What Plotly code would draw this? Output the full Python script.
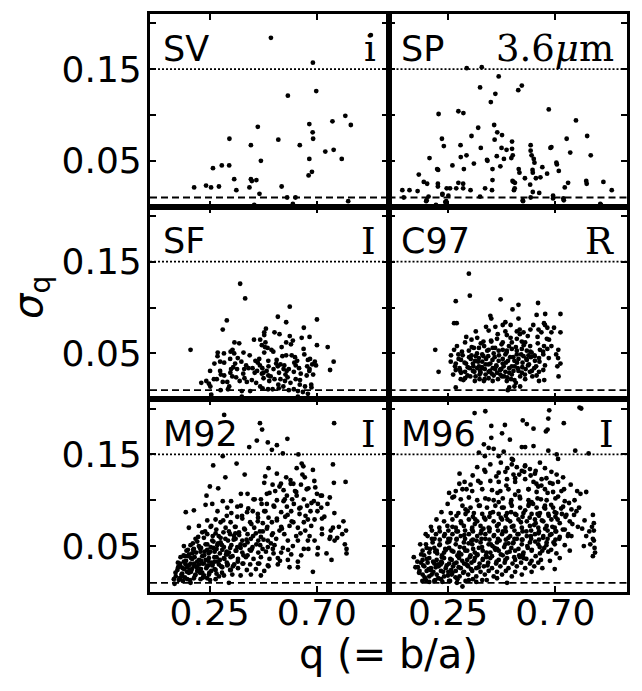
import plotly.graph_objects as go

# ---------------- data (q = b/a, sigma_q) ----------------
sv_q = [0.507,0.926,0.683,0.578,0.697,0.819,0.765,0.842,0.668,0.682,0.684,0.452,0.333,0.538,0.423,0.628,
        0.735,0.770,0.804,0.668,0.465,0.264,0.301,0.332,0.665,0.679,0.235,0.353,0.423,0.427,0.446,0.185,
        0.256,0.289,0.362,0.417,0.552,0.459,0.575,0.610,0.599,0.831,0.437]
sv_s = [0.184,0.187,0.157,0.121,0.126,0.099,0.093,0.089,0.090,0.081,0.074,0.087,0.074,0.073,0.067,0.067,
        0.060,0.062,0.052,0.052,0.050,0.042,0.045,0.045,0.034,0.038,0.023,0.030,0.030,0.028,0.029,0.021,
        0.021,0.022,0.018,0.021,0.022,0.014,0.010,0.010,0.003,0.006,0.002]

sp_q = [0.328,0.391,0.462,0.384,0.544,0.559,0.448,0.429,0.210,0.293,0.314,0.672,0.786,0.376,0.443,0.456,
        0.476,0.348,0.445,0.518,0.224,0.232,0.302,0.387,0.474,0.495,0.518,0.596,0.683,0.679,0.747,0.833,
        0.762,0.848,0.172,0.303,0.327,0.454,0.515,0.521,0.596,0.600,0.413,0.415,0.484,0.609,0.612,0.358,
        0.704,0.706,0.204,0.208,0.268,0.316,0.436,0.469,0.546,0.549,0.604,0.605,0.645,0.665,0.714,0.127,
        0.148,0.162,0.207,0.207,0.293,0.313,0.436,0.520,0.524,0.530,0.572,0.594,0.618,0.637,0.753,0.829,
        0.831,0.901,0.058,0.088,0.122,0.244,0.258,0.284,0.313,0.344,0.405,0.434,0.526,0.529,0.605,0.632,
        0.739,0.936,0.226,0.226,0.251,0.064,0.168,0.384,0.596,0.690,0.733,0.158,0.242,0.564,0.888,0.199,
        0.690,0.160,0.238,0.563,0.735,0.891]
sp_s = [0.151,0.152,0.142,0.130,0.127,0.132,0.123,0.114,0.101,0.104,0.102,0.106,0.094,0.086,0.089,0.081,
        0.078,0.077,0.073,0.071,0.074,0.066,0.067,0.064,0.064,0.062,0.063,0.067,0.065,0.064,0.074,0.077,
        0.059,0.056,0.053,0.054,0.056,0.055,0.053,0.056,0.061,0.056,0.051,0.050,0.052,0.052,0.048,0.047,
        0.048,0.046,0.041,0.040,0.045,0.041,0.041,0.044,0.041,0.037,0.040,0.037,0.043,0.036,0.039,0.035,
        0.027,0.025,0.025,0.022,0.026,0.025,0.029,0.028,0.027,0.026,0.031,0.024,0.031,0.032,0.026,0.028,
        0.025,0.027,0.018,0.018,0.017,0.020,0.020,0.020,0.020,0.018,0.020,0.018,0.018,0.020,0.016,0.015,
        0.021,0.018,0.013,0.014,0.012,0.010,0.011,0.011,0.010,0.012,0.009,0.006,0.006,0.006,0.003,0.002,
        0.009,0.007,0.005,0.007,0.007,0.002]

sf_q = [0.378,0.399,0.586,0.536,0.322,0.305,0.571,0.700,0.645,0.486,0.479,0.479,0.522,0.543,0.462,0.354,
        0.586,0.599,0.571,0.636,0.669,0.700,0.745,0.170,0.284,0.310,0.346,0.392,0.469,0.482,0.493,0.509,
        0.479,0.496,0.531,0.555,0.571,0.594,0.608,0.647,0.691,0.696,0.770,0.755,0.270,0.294,0.336,0.368,
        0.357,0.442,0.461,0.403,0.395,0.340,0.337,0.294,0.439,0.469,0.489,0.518,0.536,0.560,0.573,0.582,
        0.605,0.611,0.625,0.632,0.659,0.668,0.662,0.669,0.680,0.280,0.311,0.345,0.376,0.396,0.406,0.445,
        0.476,0.500,0.522,0.547,0.566,0.589,0.611,0.628,0.650,0.676,0.215,0.236,0.247,0.253,0.305,0.332,
        0.327,0.296,0.257,0.385,0.385,0.420,0.462,0.472,0.495,0.514,0.540,0.559,0.582,0.603,0.620,0.641,
        0.662,0.620,0.677,0.365,0.430,0.541,0.353,0.413,0.452,0.476,0.496,0.568,0.547,
        0.252,0.268,0.283,0.297,0.311,0.324,0.338,0.349,0.361,0.374,0.383,0.391,0.418,0.427,0.436,0.449,
        0.458,0.471,0.484,0.497,0.506,0.517,0.529,0.538,0.552,0.563,0.577,0.591,0.603,0.617,0.629,0.644,
        0.657,0.671,0.684]
sf_s = [0.126,0.110,0.101,0.090,0.086,0.076,0.084,0.087,0.078,0.077,0.073,0.070,0.073,0.071,0.065,0.062,
        0.069,0.064,0.062,0.067,0.068,0.059,0.057,0.054,0.051,0.050,0.054,0.051,0.059,0.057,0.056,0.054,
        0.051,0.042,0.043,0.047,0.048,0.048,0.046,0.049,0.041,0.037,0.041,0.032,0.039,0.041,0.044,0.045,
        0.039,0.042,0.037,0.037,0.033,0.033,0.029,0.031,0.029,0.028,0.031,0.033,0.036,0.033,0.031,0.033,
        0.040,0.037,0.034,0.028,0.036,0.031,0.043,0.033,0.038,0.022,0.026,0.025,0.020,0.023,0.019,0.018,
        0.023,0.020,0.022,0.022,0.020,0.018,0.022,0.016,0.014,0.016,0.018,0.020,0.017,0.014,0.019,0.014,
        0.011,0.010,0.005,0.009,0.003,0.009,0.014,0.012,0.011,0.011,0.012,0.014,0.010,0.011,0.009,0.008,
        0.006,0.003,0.013,0.033,0.034,0.029,0.050,0.034,0.040,0.029,0.026,0.027,0.038,
        0.031,0.022,0.047,0.027,0.040,0.019,0.052,0.035,0.024,0.061,0.041,0.028,0.048,0.021,0.065,0.031,
        0.044,0.034,0.062,0.036,0.025,0.052,0.039,0.016,0.057,0.037,0.024,0.060,0.030,0.042,0.021,0.055,
        0.026,0.044,0.027]

c97_q = [0.337,0.341,0.282,0.470,0.520,0.545,0.627,0.427,0.431,0.545,0.621,0.657,0.721,0.275,0.286,0.448,
         0.479,0.512,0.595,0.629,0.652,0.656,0.666,0.683,0.721,0.490,0.496,0.538,0.551,0.566,0.420,0.321,
         0.348,0.372,0.398,0.431,0.455,0.479,0.517,0.538,0.559,0.573,0.594,0.625,0.652,0.673,0.196,0.275,
         0.293,0.311,0.337,0.358,0.379,0.401,0.420,0.437,0.462,0.479,0.496,0.517,0.538,0.559,0.580,0.600,
         0.635,0.666,0.712,0.261,0.282,0.304,0.325,0.345,0.363,0.379,0.393,0.409,0.427,0.445,0.462,0.479,
         0.492,0.510,0.528,0.545,0.562,0.580,0.597,0.614,0.631,0.649,0.711,0.721,0.210,0.282,0.298,0.321,
         0.340,0.354,0.372,0.386,0.404,0.420,0.437,0.455,0.473,0.490,0.506,0.524,0.542,0.559,0.575,0.593,
         0.611,0.631,0.649,0.708,0.713,0.303,0.321,0.362,0.382,0.400,0.420,0.437,0.459,0.476,0.496,0.514,
         0.534,0.552,0.573,0.603,0.631,0.653,0.282,0.506,0.500,0.528,0.379,0.393,0.407,0.365,0.407,0.483,
         0.469,0.517,0.552,0.621,0.393,0.441,0.490,0.538,0.587,0.348,0.304,0.356,0.418,0.452,0.505,0.566,
         0.331,0.384,0.433,0.471,0.529,0.585,0.612,0.366,0.447,0.498,
         0.262,0.271,0.279,0.287,0.294,0.301,0.308,0.314,0.319,0.326,0.332,0.338,0.343,0.349,0.354,0.360,
         0.366,0.371,0.376,0.382,0.387,0.392,0.398,0.403,0.409,0.414,0.419,0.425,0.430,0.436,0.441,0.447,
         0.452,0.458,0.463,0.468,0.474,0.479,0.485,0.490,0.495,0.501,0.506,0.512,0.517,0.523,0.528,0.534,
         0.539,0.545,0.550,0.556,0.561,0.567,0.572,0.578,0.584,0.589,0.595,0.601,0.607,0.613,0.619,0.626,
         0.633,0.641,0.648,0.656,0.664,0.672,0.683,0.694,0.703]
c97_s = [0.137,0.113,0.107,0.109,0.098,0.103,0.105,0.091,0.088,0.088,0.092,0.093,0.093,0.083,0.083,0.079,
         0.081,0.081,0.076,0.076,0.083,0.081,0.078,0.073,0.073,0.074,0.070,0.074,0.071,0.073,0.075,0.062,
         0.065,0.067,0.063,0.063,0.066,0.062,0.062,0.066,0.063,0.062,0.058,0.068,0.058,0.065,0.054,0.054,
         0.049,0.048,0.053,0.056,0.056,0.058,0.054,0.056,0.053,0.054,0.053,0.055,0.053,0.055,0.053,0.051,
         0.054,0.055,0.054,0.041,0.039,0.043,0.039,0.044,0.042,0.045,0.041,0.044,0.039,0.046,0.042,0.044,
         0.040,0.046,0.042,0.044,0.040,0.043,0.046,0.042,0.045,0.049,0.045,0.039,0.030,0.032,0.034,0.030,
         0.034,0.031,0.034,0.029,0.033,0.030,0.034,0.029,0.033,0.030,0.034,0.031,0.034,0.029,0.033,0.030,
         0.034,0.030,0.032,0.036,0.025,0.022,0.023,0.020,0.022,0.020,0.023,0.020,0.022,0.025,0.020,0.022,
         0.018,0.014,0.022,0.025,0.020,0.021,0.013,0.013,0.010,0.014,0.036,0.034,0.038,0.025,0.027,0.036,
         0.027,0.027,0.025,0.026,0.049,0.050,0.049,0.049,0.048,0.048,0.029,0.036,0.047,0.037,0.058,0.047,
         0.026,0.031,0.028,0.033,0.036,0.037,0.048,0.047,0.033,0.024,
         0.048,0.027,0.036,0.058,0.044,0.031,0.052,0.021,0.040,0.068,0.035,0.046,0.025,0.057,0.039,0.030,
         0.074,0.050,0.041,0.027,0.061,0.035,0.047,0.022,0.079,0.053,0.038,0.031,0.064,0.043,0.026,0.056,
         0.036,0.071,0.048,0.032,0.060,0.039,0.025,0.084,0.051,0.042,0.029,0.067,0.036,0.046,0.021,0.057,
         0.040,0.031,0.076,0.049,0.035,0.059,0.027,0.044,0.069,0.038,0.052,0.031,0.081,0.047,0.036,0.061,
         0.041,0.073,0.052,0.037,0.066,0.045,0.058,0.078,0.049]

m92_q = [0.311,0.461,0.470,0.772,0.448,0.416,0.494,0.532,0.511,0.576,0.557,0.305,0.622,0.265,0.363,0.636,
         0.643,0.767,0.615,0.683,0.497,0.532,0.397,0.316,0.571,0.649,0.483,0.479,0.514,0.549,0.601,0.633,
         0.771,0.820,0.251,0.286,0.525,0.560,0.608,0.657,0.693,0.381,0.409,0.237,0.490,0.574,0.615,0.700,
         0.721,0.434,0.465,0.305,0.340,0.532,0.560,0.596,0.645,0.687,0.754,0.233,0.261,0.324,0.366,0.381,
         0.490,0.518,0.574,0.603,0.631,0.659,0.718,0.150,0.184,0.283,0.407,0.431,0.452,0.479,0.550,0.592,
         0.627,0.673,0.322,0.366,0.387,0.497,0.532,0.567,0.690,0.721,0.240,0.275,0.296,0.338,0.420,0.452,
         0.473,0.511,0.594,0.645,0.811,0.163,0.205,0.254,0.317,0.359,0.395,0.437,0.490,0.550,0.620,0.721,
         0.767,0.822,0.219,0.240,0.275,0.308,0.336,0.373,0.409,0.444,0.473,0.515,0.563,0.631,0.669,0.721,
         0.756,0.785,0.191,0.226,0.261,0.296,0.327,0.359,0.387,0.423,0.454,0.494,0.529,0.578,0.620,0.662,
         0.690,0.753,0.774,0.817,0.142,0.170,0.205,0.233,0.254,0.282,0.310,0.341,0.366,0.397,0.430,0.462,
         0.494,0.522,0.557,0.599,0.645,0.704,0.824,0.153,0.181,0.212,0.240,0.271,0.303,0.331,0.359,0.387,
         0.423,0.454,0.486,0.518,0.550,0.592,0.634,0.740,0.824,0.128,0.159,0.187,0.219,0.247,0.279,0.310,
         0.338,0.369,0.402,0.434,0.465,0.501,0.536,0.578,0.620,0.761,0.117,0.142,0.170,0.198,0.226,0.257,
         0.289,0.322,0.353,0.388,0.420,0.458,0.494,0.536,0.585,0.128,0.156,0.184,0.212,0.240,0.271,0.303,
         0.336,0.369,0.406,0.444,0.479,0.620,0.683,0.107,0.135,0.163,0.191,0.219,0.247,0.279,0.310,0.345,
         0.380,0.423,0.465,0.100,0.125,0.156,0.184,0.212,0.240,0.275,0.331,0.103,0.138,0.170,0.149,0.177,
         0.205,0.233,0.261,0.293,0.324,0.167,0.198,0.226,0.257,0.289,0.177,0.209,0.265,0.324,0.380,0.409,
         0.472,0.515,0.296,0.352,0.409,0.465,0.507,0.543,0.585,0.613,0.651,0.676,0.662,0.704,0.590,0.143,
         0.163,0.196,0.229,0.271,0.213,0.246,0.184,0.146,0.252,0.118,0.285,0.302,0.263,0.348,0.391,0.427,
         0.214,0.244,0.198,0.278,0.319,0.339,0.223,0.172,0.133,0.358,
         0.108,0.115,0.121,0.126,0.132,0.137,0.141,0.146,0.151,0.155,0.159,0.163,0.168,0.172,0.176,0.180,
         0.185,0.189,0.193,0.197,0.202,0.206,0.210,0.214,0.219,0.223,0.227,0.231,0.236,0.240,0.244,0.249,
         0.253,0.257,0.262,0.266,0.270,0.275,0.279,0.284,0.288,0.293,0.298,0.302,0.307,0.312,0.316,0.321,
         0.326,0.331,0.336,0.341,0.346,0.351,0.356,0.362,0.368,0.374,0.380,0.386,0.392,0.398,0.405,0.412,
         0.418,0.425,0.432,0.439,0.446,0.453,0.461,0.468,0.476,0.484,0.492,0.501,0.511,0.521,0.532,0.543,
         0.553,0.565,0.577,0.589,0.601,0.613,0.626,0.639,0.652,0.664,0.677,0.689,0.702,0.716,0.731,0.744,
         0.758,0.773,0.792,0.806,0.664,0.702,0.545,0.497,0.453,0.579]
m92_s = [0.193,0.184,0.177,0.184,0.165,0.158,0.163,0.160,0.155,0.167,0.151,0.148,0.150,0.138,0.140,0.140,
         0.137,0.139,0.135,0.133,0.135,0.129,0.128,0.125,0.125,0.125,0.126,0.119,0.117,0.118,0.118,0.117,
         0.119,0.120,0.115,0.113,0.110,0.111,0.110,0.112,0.114,0.107,0.107,0.105,0.107,0.105,0.105,0.107,
         0.105,0.101,0.101,0.099,0.099,0.100,0.099,0.101,0.101,0.099,0.103,0.095,0.096,0.092,0.093,0.094,
         0.096,0.094,0.093,0.096,0.092,0.094,0.092,0.087,0.089,0.088,0.087,0.088,0.085,0.088,0.087,0.088,
         0.085,0.088,0.083,0.082,0.080,0.081,0.080,0.082,0.079,0.080,0.078,0.079,0.076,0.076,0.076,0.077,
         0.075,0.076,0.077,0.076,0.077,0.070,0.072,0.071,0.070,0.071,0.069,0.070,0.069,0.071,0.070,0.069,
         0.070,0.067,0.065,0.063,0.064,0.065,0.063,0.065,0.063,0.064,0.066,0.064,0.063,0.064,0.061,0.063,
         0.060,0.059,0.058,0.059,0.056,0.059,0.056,0.058,0.056,0.058,0.056,0.056,0.058,0.056,0.056,0.056,
         0.056,0.058,0.056,0.052,0.050,0.051,0.050,0.052,0.049,0.051,0.049,0.051,0.049,0.051,0.049,0.051,
         0.049,0.051,0.048,0.050,0.047,0.048,0.047,0.045,0.046,0.044,0.046,0.044,0.046,0.043,0.045,0.043,
         0.045,0.043,0.044,0.042,0.043,0.041,0.040,0.042,0.042,0.038,0.039,0.038,0.039,0.037,0.038,0.037,
         0.038,0.036,0.038,0.036,0.038,0.036,0.037,0.035,0.033,0.035,0.032,0.033,0.031,0.033,0.031,0.032,
         0.030,0.032,0.030,0.031,0.030,0.031,0.029,0.030,0.027,0.028,0.027,0.028,0.025,0.028,0.025,0.027,
         0.024,0.026,0.024,0.025,0.023,0.027,0.022,0.021,0.020,0.021,0.019,0.021,0.019,0.020,0.018,0.019,
         0.018,0.019,0.018,0.014,0.015,0.014,0.015,0.014,0.015,0.014,0.010,0.009,0.012,0.010,0.030,0.036,
         0.030,0.035,0.029,0.035,0.029,0.024,0.023,0.018,0.023,0.017,0.042,0.048,0.048,0.041,0.048,0.040,
         0.047,0.047,0.054,0.061,0.054,0.060,0.053,0.067,0.072,0.061,0.067,0.072,0.079,0.096,0.118,0.025,
         0.041,0.027,0.044,0.033,0.025,0.042,0.047,0.039,0.013,0.027,0.053,0.021,0.061,0.028,0.031,0.047,
         0.034,0.029,0.055,0.068,0.041,0.024,0.016,0.022,0.017,0.064,
         0.017,0.024,0.013,0.031,0.019,0.026,0.040,0.016,0.034,0.022,0.046,0.029,0.013,0.037,0.025,0.053,
         0.031,0.018,0.043,0.028,0.060,0.035,0.021,0.048,0.031,0.016,0.040,0.066,0.026,0.052,0.034,0.021,
         0.044,0.072,0.030,0.055,0.038,0.024,0.047,0.033,0.061,0.042,0.028,0.051,0.078,0.036,0.058,0.044,
         0.030,0.066,0.048,0.086,0.039,0.057,0.071,0.045,0.033,0.062,0.052,0.083,0.040,0.068,0.057,0.091,
         0.046,0.074,0.061,0.101,0.052,0.081,0.066,0.096,0.057,0.088,0.071,0.108,0.062,0.093,0.078,0.115,
         0.069,0.101,0.084,0.122,0.076,0.109,0.091,0.128,0.083,0.113,0.097,0.121,0.088,0.105,0.082,0.096,
         0.067,0.086,0.071,0.063,0.047,0.041,0.034,0.028,0.031,0.046]

m96_q = [0.361,0.406,0.674,0.801,0.808,0.670,0.735,0.431,0.488,0.563,0.580,0.608,0.476,0.509,0.431,0.660,
         0.667,0.559,0.573,0.608,0.400,0.420,0.441,0.379,0.404,0.483,0.462,0.670,0.705,0.783,0.839,0.711,
         0.517,0.517,0.538,0.573,0.635,0.298,0.372,0.406,0.462,0.490,0.524,0.559,0.593,0.614,0.656,0.683,
         0.705,0.732,0.319,0.344,0.386,0.427,0.462,0.497,0.531,0.573,0.608,0.642,0.677,0.711,0.764,0.254,
         0.282,0.310,0.351,0.393,0.434,0.469,0.503,0.545,0.587,0.621,0.656,0.690,0.725,0.791,0.829,0.268,
         0.303,0.337,0.372,0.406,0.441,0.479,0.515,0.552,0.587,0.625,0.663,0.700,0.739,0.780,0.310,0.344,
         0.379,0.413,0.448,0.483,0.517,0.552,0.587,0.621,0.656,0.690,0.732,0.767,0.261,0.293,0.323,0.358,
         0.393,0.427,0.462,0.497,0.531,0.566,0.600,0.635,0.670,0.704,0.746,0.857,0.233,0.268,0.303,0.337,
         0.372,0.406,0.441,0.476,0.510,0.545,0.580,0.614,0.649,0.683,0.718,0.760,0.861,0.213,0.247,0.282,
         0.316,0.351,0.386,0.420,0.455,0.490,0.524,0.559,0.593,0.628,0.663,0.697,0.739,0.794,0.861,0.164,
         0.199,0.233,0.268,0.303,0.337,0.372,0.406,0.441,0.476,0.510,0.545,0.580,0.614,0.649,0.683,0.718,
         0.767,0.829,0.857,0.157,0.185,0.215,0.247,0.282,0.316,0.351,0.386,0.420,0.455,0.490,0.524,0.559,
         0.593,0.628,0.663,0.697,0.739,0.819,0.864,0.143,0.171,0.202,0.233,0.265,0.296,0.330,0.362,0.395,
         0.427,0.462,0.497,0.531,0.566,0.600,0.635,0.670,0.704,0.760,0.857,0.143,0.171,0.202,0.233,0.265,
         0.296,0.330,0.362,0.395,0.427,0.462,0.497,0.531,0.566,0.600,0.639,0.677,0.718,0.123,0.150,0.178,
         0.210,0.240,0.271,0.303,0.334,0.368,0.400,0.434,0.469,0.503,0.538,0.573,0.611,0.645,0.697,0.143,
         0.171,0.202,0.233,0.265,0.298,0.334,0.368,0.404,0.441,0.476,0.517,0.559,0.157,0.192,0.220,0.254,
         0.289,0.323,0.354,0.393,0.310,0.497,0.160,0.192,0.224,0.254,0.289,0.317,0.344,0.379,0.409,0.445,
         0.479,0.515,0.548,0.584,0.617,0.653,0.136,0.164,0.192,0.224,0.254,0.285,0.317,0.348,0.382,0.418,
         0.451,0.487,0.520,0.556,0.593,0.628,0.130,0.160,0.188,0.220,0.251,0.282,0.317,0.351,0.386,0.420,
         0.455,0.492,0.531,0.600,0.182,0.215,0.251,0.285,0.321,0.354,0.390,0.423,0.459,0.492,0.528,0.562,
         0.598,0.631,0.667,0.700,0.182,0.215,0.251,0.285,0.321,0.354,0.390,0.423,0.459,0.492,0.528,0.562,
         0.598,0.631,0.667,0.700,0.285,0.354,0.423,0.492,0.562,0.631,0.700,0.323,0.462,0.600,0.531,0.628,
         0.196,0.238,0.305,0.348,0.412,0.455,0.538,0.578,0.645,0.176,0.221,0.268,0.331,0.372,0.436,0.503,
         0.551,0.617,0.682,0.149,0.208,0.259,0.291,0.362,0.398,0.471,0.514,0.589,0.657,0.727,0.754,0.805,
         0.128,0.137,0.146,0.152,0.161,0.168,0.174,0.181,0.187,0.193,0.198,0.204,0.209,0.214,0.219,0.224,
         0.229,0.236,0.241,0.244,0.249,0.255,0.259,0.263,0.268,0.272,0.276,0.281,0.286,0.291,0.294,0.299,
         0.305,0.309,0.313,0.318,0.322,0.327,0.332,0.336,0.341,0.346,0.350,0.355,0.359,0.364,0.369,0.373,
         0.378,0.383,0.387,0.392,0.396,0.401,0.406,0.411,0.415,0.420,0.424,0.429,0.434,0.438,0.443,0.448,
         0.453,0.457,0.462,0.466,0.471,0.476,0.480,0.485,0.490,0.494,0.499,0.503,0.508,0.513,0.517,0.522,
         0.527,0.531,0.536,0.541,0.545,0.550,0.555,0.559,0.564,0.569,0.573,0.578,0.582,0.587,0.592,0.597,
         0.601,0.606,0.611,0.615,0.620,0.625,0.629,0.634,0.639,0.643,0.648,0.653,0.657,0.662,0.667,0.672,
         0.677,0.682,0.687,0.692,0.697,0.703,0.709,0.716,0.724,0.731,0.742,0.752,0.771,0.788,0.812,0.846,
         0.853,0.142,0.171,0.196,0.226,0.258,0.287,0.337,0.368,0.412,0.455,0.121,0.113,0.106,0.133,0.156,
         0.178,0.201,0.222,0.248,0.275,0.297,0.327,0.353,0.376,0.402,0.427,0.452,0.471,0.498,0.522,0.548,
         0.572,0.596,0.617,0.641,0.662,0.688,0.711,0.736,0.757,0.778,0.799,0.822,0.842,0.861,0.866]
m96_s = [0.195,0.197,0.198,0.201,0.200,0.189,0.184,0.181,0.182,0.187,0.183,0.178,0.173,0.166,0.168,0.175,
         0.177,0.158,0.158,0.159,0.161,0.157,0.156,0.152,0.148,0.153,0.148,0.154,0.150,0.154,0.151,0.145,
         0.145,0.139,0.136,0.138,0.141,0.129,0.136,0.131,0.130,0.131,0.128,0.132,0.134,0.129,0.135,0.131,
         0.128,0.125,0.120,0.117,0.119,0.121,0.120,0.123,0.120,0.123,0.120,0.123,0.119,0.120,0.117,0.108,
         0.110,0.112,0.110,0.112,0.111,0.110,0.112,0.110,0.112,0.109,0.112,0.109,0.110,0.110,0.109,0.103,
         0.101,0.103,0.100,0.102,0.100,0.102,0.100,0.102,0.100,0.102,0.100,0.102,0.099,0.100,0.094,0.092,
         0.094,0.092,0.094,0.092,0.094,0.092,0.094,0.092,0.094,0.092,0.093,0.090,0.086,0.086,0.085,0.086,
         0.085,0.086,0.085,0.086,0.085,0.086,0.085,0.086,0.085,0.086,0.084,0.084,0.077,0.079,0.077,0.079,
         0.077,0.079,0.077,0.079,0.077,0.079,0.077,0.079,0.077,0.079,0.075,0.077,0.075,0.070,0.072,0.070,
         0.072,0.070,0.072,0.070,0.072,0.070,0.072,0.070,0.072,0.070,0.072,0.070,0.068,0.071,0.067,0.061,
         0.063,0.061,0.063,0.061,0.063,0.061,0.063,0.061,0.063,0.061,0.063,0.061,0.063,0.061,0.063,0.060,
         0.061,0.061,0.058,0.052,0.054,0.052,0.054,0.052,0.054,0.052,0.054,0.052,0.054,0.052,0.054,0.052,
         0.054,0.052,0.054,0.052,0.051,0.050,0.048,0.045,0.043,0.045,0.043,0.045,0.043,0.045,0.043,0.045,
         0.043,0.045,0.043,0.045,0.043,0.045,0.042,0.044,0.042,0.045,0.039,0.035,0.037,0.035,0.037,0.035,
         0.037,0.035,0.037,0.035,0.037,0.035,0.037,0.035,0.037,0.034,0.035,0.034,0.037,0.027,0.028,0.026,
         0.028,0.026,0.028,0.026,0.028,0.026,0.028,0.026,0.028,0.026,0.028,0.026,0.028,0.026,0.025,0.019,
         0.017,0.019,0.017,0.019,0.017,0.019,0.017,0.019,0.017,0.019,0.017,0.019,0.013,0.012,0.014,0.012,
         0.014,0.012,0.014,0.013,0.006,0.010,0.048,0.048,0.040,0.048,0.040,0.048,0.040,0.048,0.040,0.048,
         0.040,0.048,0.040,0.048,0.039,0.048,0.032,0.032,0.031,0.032,0.031,0.032,0.031,0.032,0.031,0.032,
         0.031,0.032,0.031,0.032,0.031,0.032,0.023,0.023,0.022,0.023,0.022,0.023,0.022,0.023,0.022,0.023,
         0.022,0.023,0.022,0.022,0.067,0.066,0.067,0.066,0.067,0.066,0.067,0.066,0.067,0.066,0.067,0.066,
         0.067,0.066,0.067,0.066,0.058,0.057,0.058,0.057,0.058,0.057,0.058,0.057,0.058,0.057,0.058,0.057,
         0.058,0.057,0.058,0.057,0.083,0.082,0.082,0.083,0.082,0.083,0.082,0.090,0.098,0.098,0.106,0.115,
         0.044,0.047,0.041,0.056,0.038,0.047,0.058,0.036,0.045,0.024,0.033,0.021,0.029,0.040,0.050,0.053,
         0.038,0.075,0.046,0.040,0.030,0.058,0.066,0.074,0.069,0.081,0.087,0.096,0.091,0.085,0.063,0.107,
         0.021,0.041,0.029,0.016,0.036,0.025,0.047,0.019,0.033,0.058,0.027,0.042,0.015,0.051,0.030,0.038,
         0.022,0.063,0.046,0.029,0.018,0.055,0.036,0.024,0.071,0.044,0.031,0.016,0.058,0.039,0.027,0.049,
         0.075,0.034,0.021,0.062,0.045,0.030,0.088,0.053,0.038,0.025,0.068,0.047,0.034,0.079,0.056,0.041,
         0.027,0.094,0.064,0.049,0.036,0.081,0.058,0.043,0.029,0.101,0.069,0.052,0.039,0.087,0.062,0.046,
         0.033,0.108,0.074,0.056,0.041,0.092,0.066,0.049,0.035,0.116,0.079,0.059,0.044,0.097,0.071,0.053,
         0.038,0.124,0.084,0.063,0.047,0.104,0.076,0.057,0.041,0.131,0.089,0.066,0.050,0.112,0.081,0.061,
         0.046,0.096,0.073,0.055,0.118,0.085,0.064,0.049,0.101,0.078,0.059,0.092,0.069,0.051,0.108,0.083,
         0.062,0.095,0.071,0.054,0.087,0.066,0.079,0.058,0.091,0.068,0.082,0.061,0.074,0.088,0.069,0.052,
         0.071,0.012,0.011,0.013,0.011,0.012,0.010,0.013,0.011,0.013,0.015,0.033,0.027,0.038,0.052,0.063,
         0.071,0.079,0.087,0.096,0.104,0.118,0.112,0.127,0.121,0.133,0.139,0.126,0.141,0.135,0.144,0.128,
         0.137,0.127,0.132,0.116,0.124,0.118,0.104,0.112,0.097,0.084,0.092,0.078,0.066,0.056,0.043]

panels = [
    ("SV", "i", sv_q, sv_s),
    ("SP", "3.6<i>μ</i>m", sp_q, sp_s),
    ("SF", "I", sf_q, sf_s),
    ("C97", "R", c97_q, c97_s),
    ("M92", "I", m92_q, m92_s),
    ("M96", "I", m96_q, m96_s),
]

x_ticks = [0.25, 0.70]
x_tick_text = ["0.25", "0.70"]
y_ticks = [0.0, 0.05, 0.10, 0.15, 0.20]
y_tick_text = ["", "0.05", "", "0.15", ""]
dotted_level = 0.15
dashed_level = 0.01

fig = go.Figure()
layout = {}
shapes = []
annotations = []
sans = "DejaVu Sans"
serif = "DejaVu Serif"

for i, (lab, band, q, s) in enumerate(panels):
    k = i + 1
    r, c = divmod(i, 2)
    xa = "x" if k == 1 else f"x{k}"
    ya = "y" if k == 1 else f"y{k}"
    fig.add_trace(go.Scatter(x=q, y=s, mode="markers", xaxis=xa, yaxis=ya,
                             marker=dict(size=4.8, color="black"), showlegend=False,
                             hoverinfo="skip"))
    common = dict(showline=True, linecolor="black", linewidth=3.2, mirror="ticks",
                  ticks="inside", ticklen=6, tickwidth=1.5, tickcolor="black",
                  showgrid=False, zeroline=False,
                  tickfont=dict(family=sans, size=36, color="black"))
    layout["xaxis" if k == 1 else f"xaxis{k}"] = dict(
        common, domain=[c * 0.5, (c + 1) * 0.5], range=[0, 1],
        anchor=ya, tickvals=x_ticks, ticktext=x_tick_text,
        showticklabels=(r == 2), ticklabelstandoff=-13)
    layout["yaxis" if k == 1 else f"yaxis{k}"] = dict(
        common, domain=[1 - (r + 1) / 3, 1 - r / 3], range=[0, 0.21],
        anchor=xa, tickvals=y_ticks, ticktext=y_tick_text,
        showticklabels=(c == 0), ticklabelstandoff=-2)
    for lvl, dash, w in ((dotted_level, "2px,2px", 1.8), (dashed_level, "7px,4px", 1.8)):
        shapes.append(dict(type="line", xref=f"{xa} domain", yref=ya,
                           x0=0, x1=1, y0=lvl, y1=lvl,
                           line=dict(color="black", width=w, dash=dash)))
    annotations.append(dict(text=lab, xref=f"{xa} domain", yref=f"{ya} domain",
                            x=0.045, y=0.82, xanchor="left", yanchor="middle",
                            showarrow=False, font=dict(family=sans, size=35, color="black")))
    annotations.append(dict(text=band, xref=f"{xa} domain", yref=f"{ya} domain",
                            x=0.955, y=0.82, xanchor="right", yanchor="middle",
                            showarrow=False, font=dict(family=serif, size=37, color="black")))

annotations.append(dict(text="q (= b/a)", xref="paper", yref="paper", x=0.5, y=-0.108,
                        xanchor="center", yanchor="middle", showarrow=False,
                        font=dict(family=sans, size=40, color="black")))
annotations.append(dict(text="<i>σ</i><sub>q</sub>", xref="paper", yref="paper", x=-0.25, y=0.51,
                        xanchor="center", yanchor="middle", showarrow=False, textangle=-90,
                        font=dict(family=sans, size=40, color="black")))

fig.update_layout(**layout)
fig.update_layout(width=642, height=691, margin=dict(l=150, r=15, t=14, b=99),
                  plot_bgcolor="white", paper_bgcolor="white",
                  shapes=shapes, annotations=annotations)
fig.write_html("out.html")
